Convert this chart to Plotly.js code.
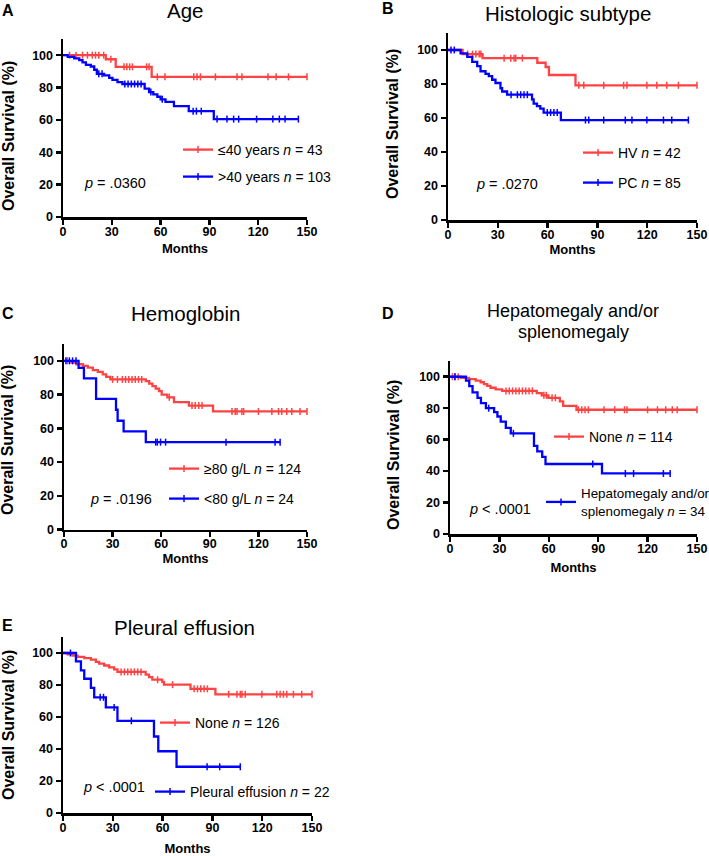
<!DOCTYPE html>
<html><head><meta charset="utf-8">
<script src="https://cdn.plot.ly/plotly-3.0.1.min.js"></script>
<style>html,body{margin:0;padding:0;background:#fff;overflow:hidden}#chart{width:709px;height:856px}</style>
</head><body><div id="chart"></div>
<script>
// ---------- DATA (months, overall survival %) ----------
// Panel A: Age
const ageLowTimes = [0, 26.3, 32.4, 54.5];
const ageLowSurv = [100, 97.5, 92.8, 86.6];
const ageLowCensor = [4, 8, 12, 15, 18, 20, 22, 25, 29.4, 37.5, 39.2, 41, 42.7, 51.4, 52.9, 58, 62.7, 80.4, 82.4, 84.5, 93.7, 107, 110, 126, 131, 138.6, 150];
const ageHighTimes = [0, 2.9, 6.9, 10, 12, 14.1, 17.1, 19.2, 20.8, 25.3, 28.4, 30.4, 33.5, 36.5, 50.2, 52.9, 55.5, 58, 60, 63, 68.2, 77.3, 92.7];
const ageHighSurv = [100, 99, 98, 97, 95.5, 94, 93, 91, 88.5, 87.5, 86, 84.7, 83.4, 82.2, 79.3, 77.2, 75.8, 74.3, 72.7, 71.2, 68.5, 65.4, 60.5];
const ageHighCensor = [22, 24, 38, 40, 42, 44, 46, 48, 54, 61, 80, 82, 85, 94.7, 100.8, 104.9, 108, 119, 129, 133, 136.5, 144.7];

// Panel B: Histologic subtype
const hvTimes = [0, 8.8, 20.8, 53.8, 58.8, 60.8, 76.8];
const hvSurv = [100, 97.6, 95.2, 92.5, 90, 85.3, 79.2];
const hvCensor = [11.8, 14.8, 16.8, 18.8, 19.8, 33.8, 37.8, 39.8, 40.8, 44.8, 78.8, 81.8, 93.8, 105.8, 107.8, 119.8, 125.8, 131.8, 138.8, 150];
const pcTimes = [0, 7.6, 11.6, 14.6, 17.6, 19.6, 22.6, 24.6, 26.6, 28.6, 31.6, 32.6, 35.6, 50.6, 51.6, 53.6, 55.6, 57.6, 68];
const pcSurv = [100, 98, 96, 93, 90.5, 87.5, 86, 84.6, 82.5, 80.6, 77.5, 75.6, 73.7, 71, 68.5, 67, 65.5, 63.2, 58.8];
const pcCensor = [1.8, 3.8, 38, 41.8, 43.8, 45.8, 47.8, 59.8, 61.8, 63.8, 65.8, 82.8, 84.8, 93.8, 106.8, 110.8, 119.8, 129.8, 134.8, 144.8];

// Panel C: Hemoglobin
const hbHighTimes = [0, 4.5, 7.6, 11.7, 14.7, 17.8, 20.9, 23.9, 26, 28.6, 50.5, 52.6, 54.6, 56.6, 58.7, 60.3, 63.8, 67.9, 77.1, 92];
const hbHighSurv = [100, 99, 98, 97, 96, 94.5, 93.5, 92, 90.5, 89, 88, 86.5, 85, 83.5, 82, 80, 78.4, 75.5, 73.5, 70];
const hbHighCensor = [2, 30, 33, 36, 38, 40, 42, 44, 46, 48, 65, 79, 81, 83.2, 85.2, 103.7, 105.7, 106.8, 109.8, 110.9, 120, 128.3, 132.4, 134.4, 137.5, 140.6, 145.7, 150];
const hbLowTimes = [0, 9, 12.3, 19.8, 32.1, 33.1, 36.8, 50.5];
const hbLowSurv = [100, 95.8, 89.6, 77.5, 71, 64.5, 58.2, 51.8];
const hbLowCensor = [1.2, 3.3, 5.3, 7.4, 56.6, 57.6, 59.6, 62.7, 100, 130.3, 133.4];

// Panel D: Hepatomegaly and/or splenomegaly
const hsNoneTimes = [0, 6.6, 11.6, 15.6, 18.6, 20.6, 22.6, 24.6, 27.7, 31.7, 52.7, 55.7, 59.7, 66.7, 68.7, 76.8];
const hsNoneSurv = [100, 99.3, 98.5, 97.5, 96.5, 95.3, 94.2, 93, 92, 91, 89.6, 88.2, 86.6, 84.3, 81.5, 79];
const hsNoneCensor = [1.5, 3, 5, 34, 36, 38, 40, 42, 44, 46, 48, 50, 57, 58.5, 62, 64, 78, 80, 82, 84, 93.5, 100, 106, 107.5, 120, 126, 131, 135, 138, 150];
const hsYesTimes = [0, 9.7, 11.7, 13.7, 16.7, 18.8, 21.8, 26.8, 28.8, 30.8, 33.9, 36.9, 51, 53, 56, 58, 92.3];
const hsYesSurv = [100, 97.5, 94, 90, 86.5, 83.2, 80, 77.5, 74.7, 71.5, 67.5, 64, 56, 52.5, 49, 44.5, 38.5];
const hsYesCensor = [3, 23.5, 38.5, 86.7, 106.5, 111.5, 129.6, 133.7];

// Panel E: Pleural effusion
const peNoneTimes = [0, 2.8, 5.8, 8.8, 12.8, 16.8, 19.8, 21.8, 24.8, 27.8, 30.8, 32.8, 49.8, 51.8, 53.8, 59.8, 60.8, 76.8, 91.8];
const peNoneSurv = [100, 99.2, 98.4, 97.6, 96.8, 95.8, 94.5, 93.3, 92.2, 91, 89.8, 88.2, 86.5, 84.9, 83.3, 82, 80.2, 77.6, 74.2];
const peNoneCensor = [35, 37, 39, 41, 43, 45, 47, 57, 66, 79, 81, 83, 85, 87, 99.8, 104.8, 106.8, 107.8, 109.8, 119.8, 128.8, 130.8, 132.8, 134.8, 138.8, 143.8, 150];
const peYesTimes = [0, 7.8, 10.8, 12.8, 16.8, 18.8, 25.8, 32.8, 54.8, 57.4, 68.4];
const peYesSurv = [100, 94.8, 89.1, 83.9, 78.2, 72.3, 66, 57.6, 47.8, 38.6, 28.9];
const peYesCensor = [4.5, 22.4, 24.4, 30.8, 41.2, 86.8, 94.4, 106.8];

// Labels
const panelLetters = ['A', 'B', 'C', 'D', 'E'];
const panelTitles = ['Age', 'Histologic subtype', 'Hemoglobin', 'Hepatomegaly and/or', 'Pleural effusion'];
const panelTitle2D = 'splenomegaly';
const pValues = ['.0360', '.0270', '.0196', '< .0001', '< .0001'];
const legendNames = [
  ['\u226440 years <i>n</i> = 43', '>40 years <i>n</i> = 103'],
  ['HV <i>n</i> = 42', 'PC <i>n</i> = 85'],
  ['\u226580 g/L <i>n</i> = 124', '<80 g/L <i>n</i> = 24'],
  ['None <i>n</i> = 114', 'Hepatomegaly and/or<br>splenomegaly <i>n</i> = 34'],
  ['None <i>n</i> = 126', 'Pleural effusion <i>n</i> = 22']
];
const xTicks = [0, 30, 60, 90, 120, 150];
const yTicks = [0, 20, 40, 60, 80, 100];
const xTitle = 'Months';
const yTitle = 'Overall Survival (%)';

// ---------- LAYOUT GEOMETRY (pixels) ----------
const W = 709, H = 856;
const px = v => v / W;
const py = v => 1 - v / H;
const RED = '#ff4242', BLUE = '#0000ff';
const FONT = 'Arial, "Liberation Sans", Helvetica, sans-serif';

const panels = [
  { x0: 63, x1: 307, yTop: 39, yBot: 217, letter: [0, 10], title: [185, 10, 20.5],
    leg: [[178, 150, 14], [178, 177, 14]], p: [81.5, 183], ytitle: [8, 136], standoff: 6.5 },
  { x0: 448, x1: 697, yTop: 33, yBot: 220, letter: [380, 8], title: [568, 14, 20.5],
    leg: [[578, 153, 14], [578, 183, 14]], p: [474.5, 184], ytitle: [393, 124], standoff: 4.5 },
  { x0: 64, x1: 307, yTop: 344, yBot: 529.5, letter: [0, 313], title: [185, 313, 20.5],
    leg: [[164, 469, 14], [164, 499, 14]], p: [87.5, 499], ytitle: [8, 440], standoff: 4 },
  { x0: 450, x1: 697, yTop: 361, yBot: 534, letter: [380, 313], title: [573, 311.5, 18],
    leg: [[549, 437, 14], [541, 502, 13.4]], p: [466.5, 509], ytitle: [393, 455], standoff: 9 },
  { x0: 63, x1: 312, yTop: 637, yBot: 813, letter: [0, 625], title: [184, 627.5, 20.5],
    leg: [[155, 723, 14], [150, 792, 14]], p: [80.5, 787], ytitle: [8, 725], standoff: 12 }
];

const curves = [
  [[ageLowTimes, ageLowSurv, ageLowCensor], [ageHighTimes, ageHighSurv, ageHighCensor]],
  [[hvTimes, hvSurv, hvCensor], [pcTimes, pcSurv, pcCensor]],
  [[hbHighTimes, hbHighSurv, hbHighCensor], [hbLowTimes, hbLowSurv, hbLowCensor]],
  [[hsNoneTimes, hsNoneSurv, hsNoneCensor], [hsYesTimes, hsYesSurv, hsYesCensor]],
  [[peNoneTimes, peNoneSurv, peNoneCensor], [peYesTimes, peYesSurv, peYesCensor]]
];

function survAt(times, surv, t) {
  let s = surv[0];
  for (let i = 0; i < times.length; i++) if (times[i] <= t) s = surv[i];
  return s;
}

const data = [];
const layout = {
  width: W, height: H, margin: { l: 0, r: 0, t: 0, b: 0, autoexpand: false },
  paper_bgcolor: '#fff', plot_bgcolor: '#fff',
  font: { family: FONT, color: '#000' },
  showlegend: true, annotations: []
};

let legendCount = 0;
panels.forEach((P, i) => {
  const n = i + 1;
  const xa = 'x' + (n === 1 ? '' : n), ya = 'y' + (n === 1 ? '' : n);
  const xk = 'xaxis' + (n === 1 ? '' : n), yk = 'yaxis' + (n === 1 ? '' : n);
  const axCommon = {
    showline: true, linewidth: 2.5, linecolor: '#000', ticks: 'outside', ticklen: 5,
    tickwidth: 2.5, tickcolor: '#000', showgrid: false, zeroline: false, fixedrange: true,
    tickfont: { family: FONT, size: 12.5, weight: 'bold', color: '#000' }
  };
  layout[xk] = Object.assign({}, axCommon, {
    domain: [px(P.x0), px(P.x1)], range: [0, 150], tickvals: xTicks, anchor: ya, ticklabelstandoff: -4,
    title: { text: xTitle, font: { family: FONT, size: 13, weight: 'bold' }, standoff: P.standoff }
  });
  layout[yk] = Object.assign({}, axCommon, {
    domain: [py(P.yBot), py(P.yTop)], range: [0, 110], tickvals: yTicks, anchor: xa
  });

  [RED, BLUE].forEach((col, k) => {
    const [times, surv, cens] = curves[i][k];
    const end = Math.max(...cens, times[times.length - 1]);
    data.push({
      type: 'scatter', mode: 'lines', xaxis: xa, yaxis: ya, showlegend: false, hoverinfo: 'skip',
      x: times.concat([end]), y: surv.concat([surv[surv.length - 1]]),
      line: { shape: 'hv', color: col, width: 2.3 }, cliponaxis: false
    });
    data.push({
      type: 'scatter', mode: 'markers', xaxis: xa, yaxis: ya, showlegend: false, hoverinfo: 'skip',
      x: cens, y: cens.map(t => survAt(times, surv, t)),
      marker: { symbol: 'line-ns', size: 5, line: { color: col, width: 1.5 } }, cliponaxis: false
    });
    legendCount++;
    const lid = 'legend' + (legendCount === 1 ? '' : legendCount);
    data.push({
      type: 'scatter', mode: 'lines+markers', xaxis: xa, yaxis: ya, x: [null], y: [null],
      name: legendNames[i][k], legend: lid, showlegend: true, hoverinfo: 'skip',
      line: { color: col, width: 2.3 },
      marker: { symbol: 'line-ns', size: 5, line: { color: col, width: 1.5 } }
    });
    layout[lid] = {
      x: px(P.leg[k][0]), y: py(P.leg[k][1]), xanchor: 'left', yanchor: 'middle',
      bgcolor: 'rgba(0,0,0,0)', borderwidth: 0, itemclick: false, itemdoubleclick: false,
      font: { family: FONT, size: P.leg[k][2], color: '#000' }
    };
  });

  const A = layout.annotations;
  A.push({ xref: 'paper', yref: 'paper', x: px(P.letter[0]), y: py(P.letter[1]), xanchor: 'left', yanchor: 'middle',
    text: panelLetters[i], showarrow: false, font: { family: FONT, size: 16, weight: 'bold' } });
  A.push({ xref: 'paper', yref: 'paper', x: px(P.title[0]), y: py(P.title[1]), xanchor: 'center', yanchor: 'middle',
    text: panelTitles[i], showarrow: false, font: { family: FONT, size: P.title[2] } });
  if (i === 3) {
    A.push({ xref: 'paper', yref: 'paper', x: px(P.title[0]), y: py(331.5), xanchor: 'center', yanchor: 'middle',
      text: panelTitle2D, showarrow: false, font: { family: FONT, size: P.title[2] } });
  }
  A.push({ xref: 'paper', yref: 'paper', x: px(P.p[0]), y: py(P.p[1]), xanchor: 'left', yanchor: 'middle',
    text: '<i>p</i> ' + (pValues[i].startsWith('<') ? '' : '= ') + pValues[i].replace('<', '&lt;'), showarrow: false,
    font: { family: FONT, size: 14.5 } });
  A.push({ xref: 'paper', yref: 'paper', x: px(P.ytitle[0]), y: py(P.ytitle[1]), xanchor: 'center', yanchor: 'middle',
    textangle: -90, text: yTitle, showarrow: false, font: { family: FONT, size: 16, weight: 'bold' } });
});

Plotly.newPlot('chart', data, layout, { staticPlot: true, displayModeBar: false });
</script></body></html>
